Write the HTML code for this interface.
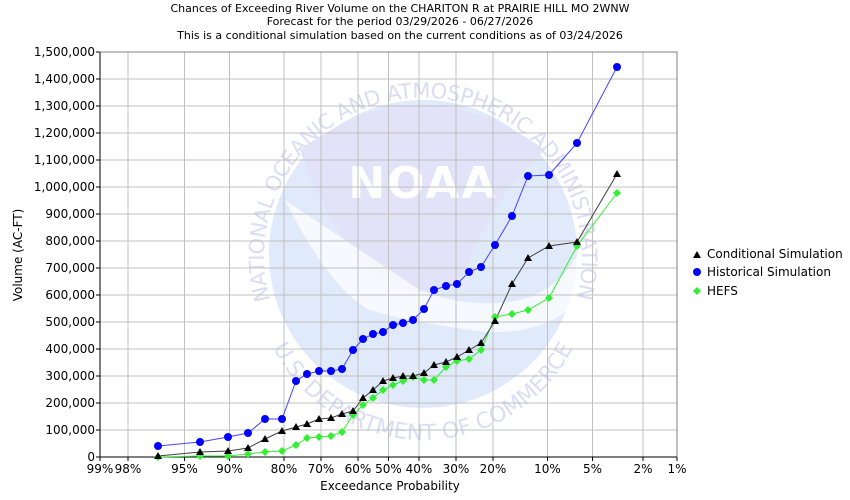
<!DOCTYPE html>
<html><head><meta charset="utf-8"><style>body{margin:0;background:#fff}svg{display:block;font-family:"DejaVu Sans","Liberation Sans",sans-serif}</style></head><body>
<svg width="850" height="500" viewBox="0 0 850 500" xmlns="http://www.w3.org/2000/svg">
<rect width="850" height="500" fill="#fff"/>
<g font-size="11" text-anchor="middle" fill="#000">
<text x="400" y="12">Chances of Exceeding River Volume on the CHARITON R at PRAIRIE HILL MO 2WNW</text>
<text x="400" y="25">Forecast for the period 03/29/2026 - 06/27/2026</text>
<text x="400" y="39">This is a conditional simulation based on the current conditions as of 03/24/2026</text>
</g>
<!-- watermark -->
<g>
<circle cx="423" cy="254" r="154" fill="#e0eafa"/>
<path d="M300,150 Q420,60 545,150 Q490,200 470,260 Q455,300 400,290 Q340,260 300,150Z" fill="#e2e2f8"/>
<path d="M285,200 Q360,250 420,290 Q470,310 520,300 Q560,290 580,250 L580,300 Q540,340 470,330 Q400,320 370,310 Q330,290 285,200Z" fill="#fff" opacity="0.7"/>
<text x="423" y="198" font-size="44" font-weight="bold" fill="#fff" text-anchor="middle" letter-spacing="2">NOAA</text>
<path id="arcT" d="M270,300 A159,159 0 1 1 576,300" fill="none"/>
<text font-size="21" fill="#dcdcf4"><textPath href="#arcT" startOffset="0" textLength="585" lengthAdjust="spacing">NATIONAL OCEANIC AND ATMOSPHERIC ADMINISTRATION</textPath></text>
<path id="arcB" d="M262,320 A168,168 0 0 0 584,320" fill="none"/>
<text font-size="22" fill="#dcdcf4"><textPath href="#arcB" startOffset="50%" text-anchor="middle">U.S. DEPARTMENT OF COMMERCE</textPath></text>
</g>
<g id="grid" stroke="#c0c0c0" stroke-width="1"></g>
<g id="axes"></g>
<g id="series"></g>
<g font-size="12" fill="#000">
<text x="390" y="490" text-anchor="middle">Exceedance Probability</text>
<text transform="translate(22,255) rotate(-90)" text-anchor="middle">Volume (AC-FT)</text>
<polygon points="697,251 701,258 693,258" fill="#000"/>
<text x="707" y="258">Conditional Simulation</text>
<circle cx="697" cy="272" r="4" fill="#0000ff"/>
<text x="707" y="276">Historical Simulation</text>
<polygon points="697,287 701,291 697,295 693,291" fill="#33ee33"/>
<text x="707" y="295">HEFS</text>
</g>
<script>
const ns="http://www.w3.org/2000/svg";
function el(p,t,a,txt){const e=document.createElementNS(ns,t);for(const k in a)e.setAttribute(k,a[k]);if(txt!==undefined)e.textContent=txt;p.appendChild(e);return e;}
const grid=document.getElementById('grid'),axes=document.getElementById('axes'),ser=document.getElementById('series');
const x0=100,x1=677,yT=52,yB=457;
const xt=[[99,100],[98,128],[95,184.5],[90,229.5],[80,284],[70,321],[60,358],[50,388.5],[40,419],[30,456],[20,493],[10,547.5],[5,592.5],[2,643],[1,677]];
for(let v=0;v<=15;v++){const y=yB-v*27;el(grid,'line',{x1:x0,x2:x1,y1:y,y2:y});
el(axes,'line',{x1:x0-4,x2:x0,y1:y,y2:y,stroke:'#000'});
el(axes,'text',{x:x0-5,y:y+4,'font-size':'12','text-anchor':'end'},(v*100000).toLocaleString('en-US'));}
xt.forEach(([p,x])=>{el(grid,'line',{x1:x,x2:x,y1:yT,y2:yB});el(axes,'line',{x1:x,x2:x,y1:yB,y2:yB+4,stroke:'#000'});
el(axes,'text',{x:x,y:yB+16,'font-size':'12','text-anchor':'middle'},p+'%');});
el(axes,'rect',{x:x0,y:yT,width:x1-x0,height:yB-yT,fill:'none',stroke:'#808080'});
el(axes,'line',{x1:x0,x2:x0,y1:yT,y2:yB,stroke:'#000'});el(axes,'line',{x1:x0,x2:x1,y1:yB,y2:yB,stroke:'#000'});
const X=[158,200,228,248,265,282,296,307,319,331,342,353,363,373,383,393,403,413,424,434,446,457,469,481,495,512,528,549,577,617];
const B=[446,442,437,433,419,419,381,374,371,371,369,350,339,334,332,325,323,320,309,290,286,284,272,267,245,216,176,175,143,67];
const K=[456,452,451,448,439,431,427,424,419,418,414,411,398,390,381,378,376,376,373,365,362,357,350,343,321,284,258,246,242,174];
const G=[457,456,456,454,452,451,445,438,437,436,432,415,405,398,390,385,381,377,380,380,367,361,359,350,317,314,310,298,246,193];
function line(Y,c){el(ser,'polyline',{points:X.map((x,i)=>x+','+Y[i]).join(' '),fill:'none',stroke:c,'stroke-width':1});}
line(G,'#33ee33');line(K,'#404040');line(B,'#4444ff');
X.forEach((x,i)=>{el(ser,'polygon',{points:`${x},${G[i]-4} ${x+4},${G[i]} ${x},${G[i]+4} ${x-4},${G[i]}`,fill:'#33ee33'});});
X.forEach((x,i)=>{el(ser,'polygon',{points:`${x},${K[i]-4} ${x+4},${K[i]+3} ${x-4},${K[i]+3}`,fill:'#000'});});
X.forEach((x,i)=>{el(ser,'circle',{cx:x,cy:B[i],r:4,fill:'#0000ff'});});
</script>
</svg>
</body></html>
